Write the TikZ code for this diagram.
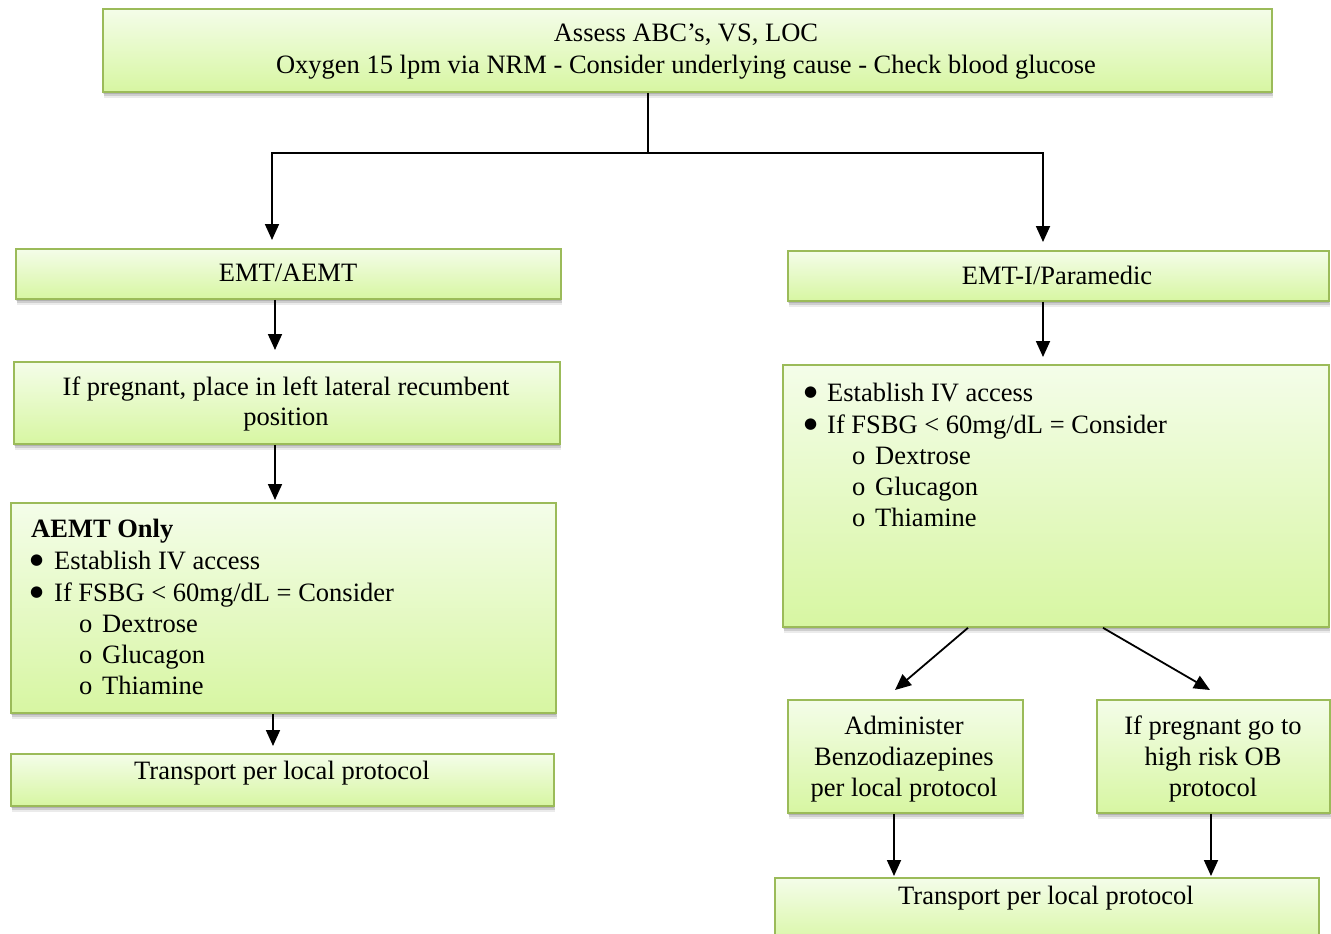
\documentclass[tikz,border=0pt]{standalone}
\usepackage{fontspec}
\setmainfont{Liberation Serif}
\newfontfamily\symfont{DejaVu Sans}
\usetikzlibrary{arrows.meta,shadows}
\definecolor{boxline}{HTML}{9BBB59}
\definecolor{boxtop}{HTML}{F4FDE9}
\definecolor{boxbot}{HTML}{D7F6A2}
% list bullet
\newcommand{\bigbul}{\raisebox{4.5pt}[0pt][0pt]{\symfont\fontsize{15pt}{15pt}\selectfont ●}}
\begin{document}
\begin{tikzpicture}[x=1pt,y=-1pt,
  box/.style={rectangle, draw=boxline, line width=1.8pt, top color=boxtop,
    bottom color=boxbot, inner sep=0pt, anchor=north west,
    general shadow={shadow xshift=0.5pt, shadow yshift=-2pt, opacity=0.14, fill=black},
    general shadow={shadow xshift=1pt, shadow yshift=-4pt, opacity=0.12, fill=black},
    general shadow={shadow xshift=1.5pt, shadow yshift=-6.5pt, opacity=0.08, fill=black}},
  ln/.style={font=\fontsize{26.5pt}{31.3pt}\selectfont, inner sep=0pt, anchor=base},
  lnl/.style={ln, anchor=base west},
  link/.style={line width=1.8pt},
  arr/.style={link, -{Triangle[length=16pt,width=14pt]}}
]
\useasboundingbox (0,0) rectangle (1331,934);

% boxes
\node[box, minimum width=1169pt, minimum height=83pt] (top) at (102,8) {};
\node[box, minimum width=545pt, minimum height=50pt] (emt) at (15,248) {};
\node[box, minimum width=541pt, minimum height=50pt] (para) at (787,250) {};
\node[box, minimum width=546pt, minimum height=82pt] (preg) at (13,361) {};
\node[box, minimum width=545pt, minimum height=210pt] (aemt) at (10,502) {};
\node[box, minimum width=543pt, minimum height=52pt] (transL) at (10,753) {};
\node[box, minimum width=546pt, minimum height=262pt] (list) at (782,364) {};
\node[box, minimum width=235pt, minimum height=113pt] (admin) at (787,699) {};
\node[box, minimum width=233pt, minimum height=113pt] (ob) at (1096,699) {};
\node[box, minimum width=544pt, minimum height=70pt] (transR) at (774,877) {};

% texts
\node[ln] (top1) at (686,42) {Assess ABC’s, VS, LOC};
\node[ln] (top2) at (686,74) {Oxygen 15 lpm via NRM - Consider underlying cause - Check blood glucose};
\node[ln] (emtT) at (288,281) {EMT/AEMT};
\node[ln] (paraT) at (1057,284) {EMT-I/Paramedic};
\node[ln] (preg1) at (286,395) {If pregnant, place in left lateral recumbent};
\node[ln] (preg2) at (286,425) {position};

\node[lnl] (a1) at (31,537) {\textbf{AEMT Only}};
\node[lnl] (a2) at (30,569) {\makebox[24pt][l]{\bigbul}Establish IV access};
\node[lnl] (a3) at (30,601) {\makebox[24pt][l]{\bigbul}If FSBG < 60mg/dL = Consider};
\node[lnl] (a4) at (79,632) {\makebox[23pt][l]{o}Dextrose};
\node[lnl] (a5) at (79,663) {\makebox[23pt][l]{o}Glucagon};
\node[lnl] (a6) at (79,694) {\makebox[23pt][l]{o}Thiamine};
\node[ln] (transLT) at (282,779) {Transport per local protocol};

\node[lnl] (b1) at (804,401) {\makebox[23pt][l]{\bigbul}Establish IV access};
\node[lnl] (b2) at (804,433) {\makebox[23pt][l]{\bigbul}If FSBG < 60mg/dL = Consider};
\node[lnl] (b3) at (852,464) {\makebox[23pt][l]{o}Dextrose};
\node[lnl] (b4) at (852,495) {\makebox[23pt][l]{o}Glucagon};
\node[lnl] (b5) at (852,526) {\makebox[23pt][l]{o}Thiamine};

\node[ln] (ad1) at (904,734) {Administer};
\node[ln] (ad2) at (904,765) {Benzodiazepines};
\node[ln] (ad3) at (904,796) {per local protocol};
\node[ln] (ob1) at (1213,734) {If pregnant go to};
\node[ln] (ob2) at (1213,765) {high risk OB};
\node[ln] (ob3) at (1213,796) {protocol};
\node[ln] (transRT) at (1046,904) {Transport per local protocol};

% connectors
\coordinate (j) at (648,153);
\coordinate (jl) at (272,153);
\coordinate (jr) at (1043,153);
\coordinate (c1) at (275,0);
\coordinate (c2) at (273,0);
\coordinate (d1) at (968,0);
\coordinate (d1e) at (895,690);
\coordinate (d2) at (1103,0);
\coordinate (d2e) at (1210,690);
\coordinate (e1) at (894,0);
\coordinate (e2) at (1211,0);

\draw[link] (top.south -| j) -- (j);
\draw[arr, shorten >=8pt] (j) -| (emt.north -| jl);
\draw[arr, shorten >=8pt] (j) -| (para.north -| jr);
\draw[arr, shorten >=11pt] (emt.south -| c1) -- (preg.north -| c1);
\draw[arr, shorten >=2pt] (preg.south -| c1) -- (aemt.north -| c1);
\draw[arr, shorten >=7pt] (aemt.south -| c2) -- (transL.north -| c2);
\draw[arr, shorten >=7pt] (para.south -| jr) -- (list.north -| jr);
\draw[arr] (list.south -| d1) -- (d1e);
\draw[arr] (list.south -| d2) -- (d2e);
\draw[arr, shorten >=1pt] (admin.south -| e1) -- (transR.north -| e1);
\draw[arr, shorten >=1pt] (ob.south -| e2) -- (transR.north -| e2);
\end{tikzpicture}
\end{document}
